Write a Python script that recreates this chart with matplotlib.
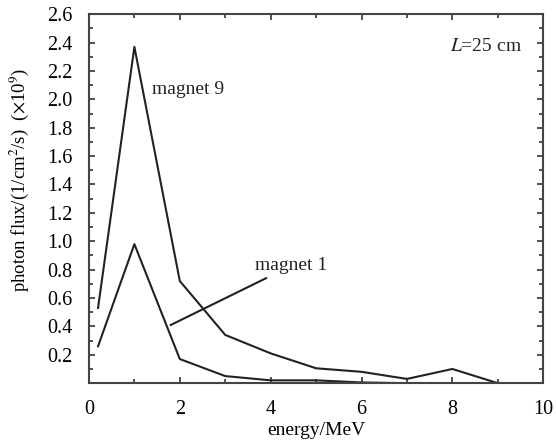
import matplotlib
matplotlib.use("Agg")
import matplotlib.pyplot as plt
from matplotlib.ticker import MultipleLocator, FixedLocator

energy = [0.2, 1, 2, 3, 4, 5, 6, 7, 8, 9, 10]
magnet9 = [0.53, 2.37, 0.72, 0.34, 0.21, 0.105, 0.08, 0.03, 0.10, 0.0, 0.0]
magnet1 = [0.26, 0.98, 0.17, 0.05, 0.02, 0.02, 0.005, 0.0, 0.0, 0.0, 0.0]
xticks = [0, 2, 4, 6, 8, 10]
yticks = [0.2, 0.4, 0.6, 0.8, 1.0, 1.2, 1.4, 1.6, 1.8, 2.0, 2.2, 2.4, 2.6]

plt.rcParams['font.family'] = ['Liberation Serif', 'DejaVu Serif']
plt.rcParams['mathtext.fontset'] = 'stix'

fig = plt.figure(figsize=(5.56, 4.44), dpi=100)
ax = fig.add_axes([0.160, 0.137, 0.817, 0.831])

lc = '#222222'
ax.plot(energy, magnet9, color=lc, lw=1.5)
ax.plot(energy, magnet1, color=lc, lw=1.5)

ax.set_xlim(0, 10)
ax.set_ylim(0, 2.6)
ax.xaxis.set_major_locator(FixedLocator(xticks))
ax.xaxis.set_minor_locator(MultipleLocator(1))
ax.yaxis.set_major_locator(FixedLocator(yticks))
ax.yaxis.set_minor_locator(MultipleLocator(0.1))
ax.set_xticklabels([f"{v:g}" for v in xticks])
ax.set_yticklabels([f"{v:.1f}" for v in yticks])

ax.tick_params(which='both', direction='in', top=True, right=True, color='#333333', width=1.2)
ax.tick_params(which='major', length=4, labelsize=14.5)
ax.tick_params(axis='x', which='major', pad=12)
ax.tick_params(axis='y', which='major', pad=12)
ax.tick_params(which='minor', length=3)
for s in ax.spines.values():
    s.set_color('#444444')
    s.set_linewidth(1.5)

ax.set_xlabel('energy/MeV', fontsize=14, labelpad=2)
ax.set_ylabel(r'photon flux/(1/cm$^2$/s)  ($\times$10$^9$)', fontsize=13.5)
ax.yaxis.set_label_coords(-0.128, 0.55)

ax.text(1.38, 2.07, 'magnet 9', fontsize=14, va='center', ha='left', color=lc)
ax.text(3.65, 0.83, 'magnet 1', fontsize=14, va='center', ha='left', color=lc)
ax.plot([1.8, 3.9], [0.41, 0.74], color=lc, lw=1.5)
ax.text(9.53, 2.37, r'$L$=25 cm', fontsize=14, va='center', ha='right', color=lc)

fig.savefig('out.png', dpi=100)
